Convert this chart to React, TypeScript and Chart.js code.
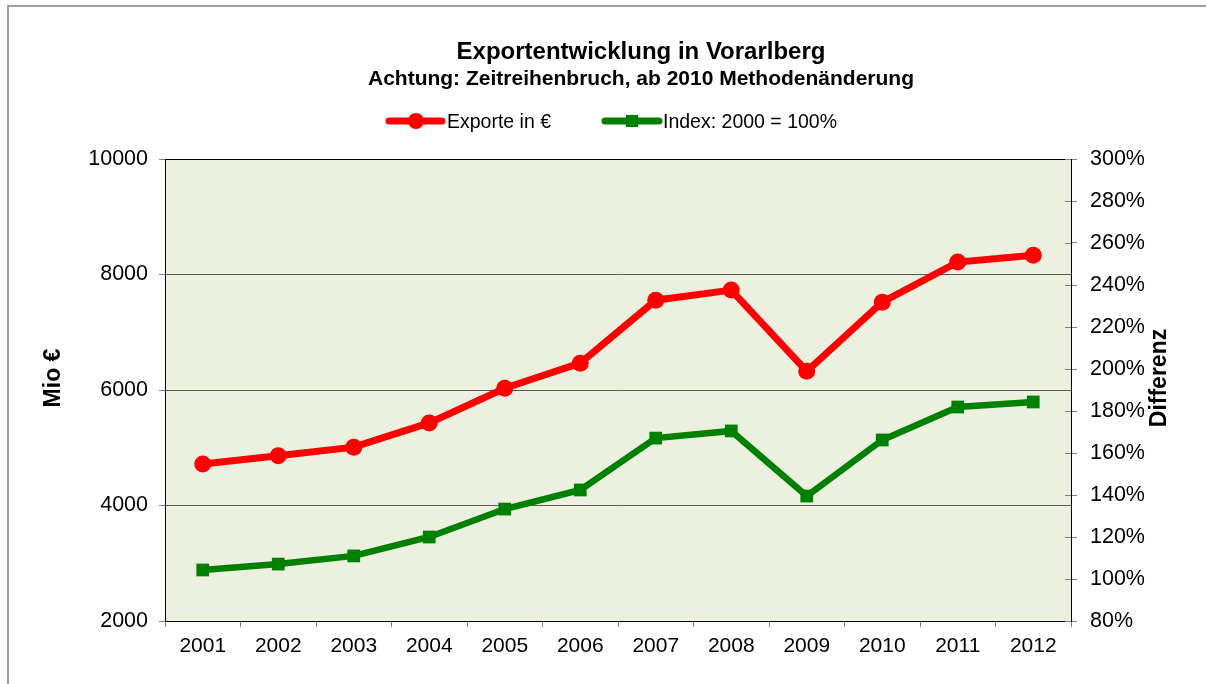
import React, { useEffect, useRef } from "react";
import { Chart, registerables } from "chart.js";

Chart.register(...registerables);

const years = ["2001", "2002", "2003", "2004", "2005", "2006", "2007", "2008", "2009", "2010", "2011", "2012"];
const exporteMio = [4720, 4860, 5010, 5430, 6030, 6465, 7555, 7730, 6325, 7520, 8215, 8335];
const indexPct = [104.3, 107.1, 111.0, 120.0, 133.3, 142.4, 167.1, 170.5, 139.5, 166.2, 181.9, 184.3];
const leftTicks = [2000, 4000, 6000, 8000, 10000];
const rightTicks = [80, 100, 120, 140, 160, 180, 200, 220, 240, 260, 280, 300];

const titleText = "Exportentwicklung in Vorarlberg";
const subtitleText = "Achtung: Zeitreihenbruch, ab 2010 Methodenänderung";
const seriesNames = ["Exporte in €", "Index: 2000 = 100%"];
const leftAxisTitle = "Mio €";
const rightAxisTitle = "Differenz";

const FONT = "'Liberation Sans', Arial, sans-serif";
const RED = "#FF0000";
const GREEN = "#008000";

const decorPlugin = {
  id: "decor",
  beforeDraw(chart: any) {
    const { ctx, chartArea } = chart;
    ctx.save();
    ctx.fillStyle = "#ffffff";
    ctx.fillRect(0, 0, chart.width, chart.height);
    // outer border
    ctx.fillStyle = "#a0a0a0";
    ctx.fillRect(7, 5, 2, chart.height);
    ctx.fillRect(7, 5, chart.width, 2);
    // plot background
    ctx.fillStyle = "#EBF1DE";
    ctx.fillRect(chartArea.left, chartArea.top, chartArea.right - chartArea.left, chartArea.bottom - chartArea.top);
    ctx.restore();
  },
  afterDatasetsDraw(chart: any) {
    const { ctx, chartArea } = chart;
    ctx.save();
    // plot top border
    ctx.strokeStyle = "#000";
    ctx.lineWidth = 1;
    ctx.beginPath();
    ctx.moveTo(chartArea.left, chartArea.top + 0.5);
    ctx.lineTo(chartArea.right, chartArea.top + 0.5);
    ctx.stroke();
    // inward ticks on right axis
    const y1 = chart.scales.y1;
    ctx.strokeStyle = "#808080";
    ctx.beginPath();
    rightTicks.forEach((v) => {
      const py = Math.round(y1.getPixelForValue(v)) + 0.5;
      ctx.moveTo(chartArea.right - 6, py);
      ctx.lineTo(chartArea.right, py);
    });
    ctx.stroke();

    // titles
    ctx.fillStyle = "#000";
    ctx.textAlign = "center";
    ctx.textBaseline = "alphabetic";
    ctx.font = `bold 24px ${FONT}`;
    ctx.fillText(titleText, 641, 59);
    ctx.font = `bold 21px ${FONT}`;
    ctx.fillText(subtitleText, 641, 85);

    // legend
    const ly = 121;
    ctx.lineCap = "round";
    ctx.lineWidth = 7;
    ctx.strokeStyle = RED;
    ctx.beginPath();
    ctx.moveTo(389, ly);
    ctx.lineTo(442, ly);
    ctx.stroke();
    ctx.fillStyle = RED;
    ctx.beginPath();
    ctx.arc(416, ly, 8, 0, Math.PI * 2);
    ctx.fill();
    ctx.strokeStyle = GREEN;
    ctx.beginPath();
    ctx.moveTo(605, ly);
    ctx.lineTo(659, ly);
    ctx.stroke();
    ctx.fillStyle = GREEN;
    ctx.fillRect(626, ly - 6, 12, 12);
    ctx.fillStyle = "#000";
    ctx.textAlign = "left";
    ctx.font = `19.5px ${FONT}`;
    ctx.fillText(seriesNames[0], 447, 128);
    ctx.fillText(seriesNames[1], 663, 128);

    // axis titles
    ctx.font = `bold 23px ${FONT}`;
    ctx.textAlign = "center";
    ctx.textBaseline = "middle";
    ctx.save();
    ctx.translate(54, 378);
    ctx.rotate(-Math.PI / 2);
    ctx.fillText(leftAxisTitle, 0, 0);
    ctx.restore();
    ctx.save();
    ctx.translate(1160, 378);
    ctx.rotate(-Math.PI / 2);
    ctx.fillText(rightAxisTitle, 0, 0);
    ctx.restore();
    ctx.restore();
  },
};

export default function App() {
  const ref = useRef<HTMLCanvasElement | null>(null);
  useEffect(() => {
    if (!ref.current) return;
    const chart = new Chart(ref.current, {
      type: "line",
      data: {
        labels: years,
        datasets: [
          {
            label: seriesNames[0],
            data: exporteMio,
            yAxisID: "y",
            borderColor: RED,
            backgroundColor: RED,
            borderWidth: 7,
            pointStyle: "circle",
            pointRadius: 8.5,
            pointBorderWidth: 0,
            tension: 0,
          },
          {
            label: seriesNames[1],
            data: indexPct,
            yAxisID: "y1",
            borderColor: GREEN,
            backgroundColor: GREEN,
            borderWidth: 6.5,
            pointStyle: "rect",
            pointRadius: 9,
            pointBorderWidth: 0,
            tension: 0,
          },
        ],
      },
      options: {
        responsive: false,
        animation: false,
        devicePixelRatio: 1,
        layout: { padding: { top: 159, left: 0, right: 0, bottom: 0 } },
        plugins: {
          legend: { display: false },
          title: { display: false },
          tooltip: { enabled: false },
        },
        scales: {
          x: {
            type: "category",
            offset: true,
            grid: { offset: true, drawOnChartArea: false, drawTicks: true, tickLength: 6, color: "#808080" },
            border: { color: "#000", width: 1 },
            ticks: { color: "#000", font: { family: FONT, size: 21 }, padding: 7, maxRotation: 0 },
            afterFit: (s: any) => {
              s.height = 63;
            },
          },
          y: {
            position: "left",
            min: 2000,
            max: 10000,
            afterBuildTicks: (s: any) => {
              s.ticks = leftTicks.map((v) => ({ value: v }));
            },
            grid: { color: "#5a5a5a", lineWidth: 1, tickLength: 6, tickColor: "#808080" },
            border: { color: "#000", width: 1 },
            ticks: { color: "#000", font: { family: FONT, size: 21.5 }, padding: 11, callback: (v: any) => String(v) },
            afterFit: (s: any) => {
              s.width = 165;
            },
          },
          y1: {
            position: "right",
            min: 80,
            max: 300,
            afterBuildTicks: (s: any) => {
              s.ticks = rightTicks.map((v) => ({ value: v }));
            },
            grid: { drawOnChartArea: false, tickLength: 6, color: "#808080" },
            border: { color: "#000", width: 1 },
            ticks: { color: "#000", font: { family: FONT, size: 21.5 }, padding: 13, callback: (v: any) => `${v}%` },
            afterFit: (s: any) => {
              s.width = 135;
            },
          },
        },
      },
      plugins: [decorPlugin],
    });
    return () => chart.destroy();
  }, []);
  return (
    <div style={{ position: "absolute", left: 0, top: 0, width: 1206, height: 684 }}>
      <canvas ref={ref} width={1206} height={684} style={{ display: "block", width: 1206, height: 684 }} />
    </div>
  );
}
